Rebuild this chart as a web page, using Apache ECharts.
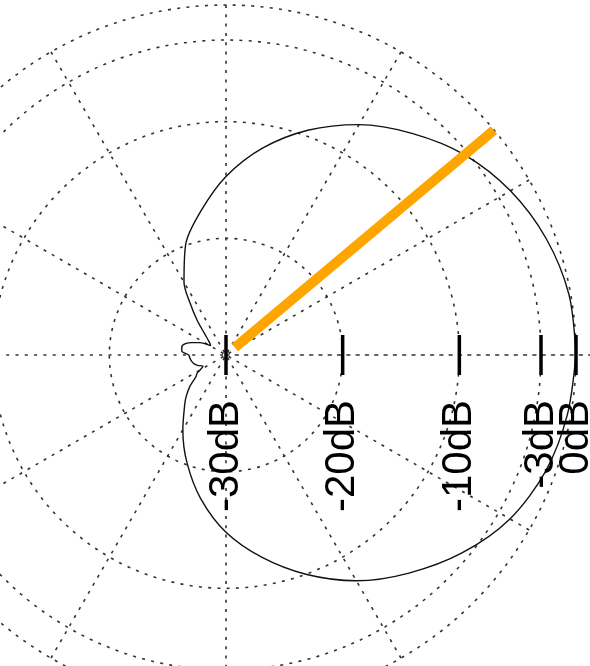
<!DOCTYPE html>
<html>
<head>
<meta charset="utf-8">
<script src="https://cdn.jsdelivr.net/npm/echarts@6/dist/echarts.min.js"></script>
<style>
html,body{margin:0;padding:0;background:#fff;}
#c{width:590px;height:666px;}
</style>
</head>
<body>
<div id="c"></div>
<script>
// ---- data ----
const tickValues = [-30, -20, -10, -3, 0];
const tickLabels = ['-30dB', '-20dB', '-10dB', '-3dB', '0dB'];
const ringValues = [-20, -10, -3, 0];
const spokeStep = 30;
const patternAngles = [0, 10, 20, 30, 40, 50, 60, 70, 80, 90, 100, 110, 120, 125, 130, 135, 140, 145, 149, 155, 160, 165, 170, 175, 180, 185, 190, 195, 200, 206, 212, 216, 221, 226, 230, 240, 250, 260, 270, 280, 290, 300, 310, 320, 330, 340, 350, 360];
const patternDb = [0, -0.15, -0.8, -1.85, -3.3, -5.2, -7.2, -9.5, -12.0, -14.7, -17.5, -19.9, -22.8, -24.7, -26.2, -27.4, -28.0, -28.35, -28.45, -27.5, -26.9, -26.35, -26.15, -26.2, -26.8, -26.9, -27.0, -27.15, -27.4, -27.8, -27.1, -26.8, -25.9, -25.1, -24.5, -22.6, -20.2, -17.5, -14.8, -12.4, -10.0, -7.65, -5.6, -3.6, -1.9, -0.85, -0.3, 0];
const steerAngle = 40;
const steerRange = [-29, 0];

// ---- chart ----
const R = 350;
const center = [226, 355];
const dotColor = '#333';
const dotted = { type: [3, 6.3], color: dotColor, width: 1.6 };
// spoke colours: the 0° spoke is replaced by the full-width horizontal axis line
const spokeColors = [];
for (let a = 0; a < 360; a += spokeStep) spokeColors.push(a === 0 ? 'rgba(0,0,0,0)' : dotColor);

const chart = echarts.init(document.getElementById('c'), null, { renderer: 'canvas' });

const patternData = patternAngles.map((a, i) => [patternDb[i], a]);
const tickData = tickValues.map(v => [v, 0]);
const steerData = steerRange.map(v => [v, steerAngle]);

chart.setOption({
  backgroundColor: '#fff',
  animation: false,
  polar: [
    { center: center, radius: R },
    { center: center, radius: R + 30 }
  ],
  angleAxis: [
    {
      polarIndex: 0, type: 'value', min: 0, max: 360, interval: spokeStep,
      startAngle: 0, clockwise: false,
      axisLine: { show: false }, axisTick: { show: false }, axisLabel: { show: false },
      splitLine: { show: true, lineStyle: Object.assign({}, dotted, { color: spokeColors }) }
    },
    {
      polarIndex: 1, type: 'value', min: 0, max: 360, interval: spokeStep,
      startAngle: 0, clockwise: false,
      axisLine: { show: false }, axisTick: { show: false }, axisLabel: { show: false },
      splitLine: { show: false }
    }
  ],
  radiusAxis: [
    {
      polarIndex: 0, type: 'value', min: -30, max: 0,
      axisLine: { show: false },
      axisTick: { show: false, customValues: ringValues },
      axisLabel: { show: false, customValues: ringValues },
      splitLine: { show: true, lineStyle: dotted }
    },
    {
      polarIndex: 1, type: 'value', min: -30, max: 0,
      axisLine: { show: true, lineStyle: dotted },
      axisTick: { show: false }, axisLabel: { show: false },
      splitLine: { show: false }
    }
  ],
  series: [
    {
      type: 'line', coordinateSystem: 'polar', polarIndex: 0,
      data: patternData, symbol: 'none', smooth: 0.3,
      lineStyle: { color: '#111', width: 1.4 }, z: 3, clip: false
    },
    {
      type: 'line', coordinateSystem: 'polar', polarIndex: 0,
      data: steerData, symbol: 'none',
      lineStyle: { color: '#FFA500', width: 10, cap: 'butt' }, z: 4, clip: false
    },
    {
      type: 'scatter', coordinateSystem: 'polar', polarIndex: 0,
      data: tickData, symbol: 'rect', symbolSize: [3.5, 40],
      itemStyle: { color: '#000', opacity: 1 }, z: 5,
      label: {
        show: true,
        formatter: p => tickLabels[p.dataIndex],
        position: [1.75, 65], rotate: 90, align: 'right', verticalAlign: 'middle',
        fontSize: 42, fontFamily: 'Liberation Sans', color: '#000', opacity: 1
      }
    }
  ]
});
</script>
</body>
</html>
